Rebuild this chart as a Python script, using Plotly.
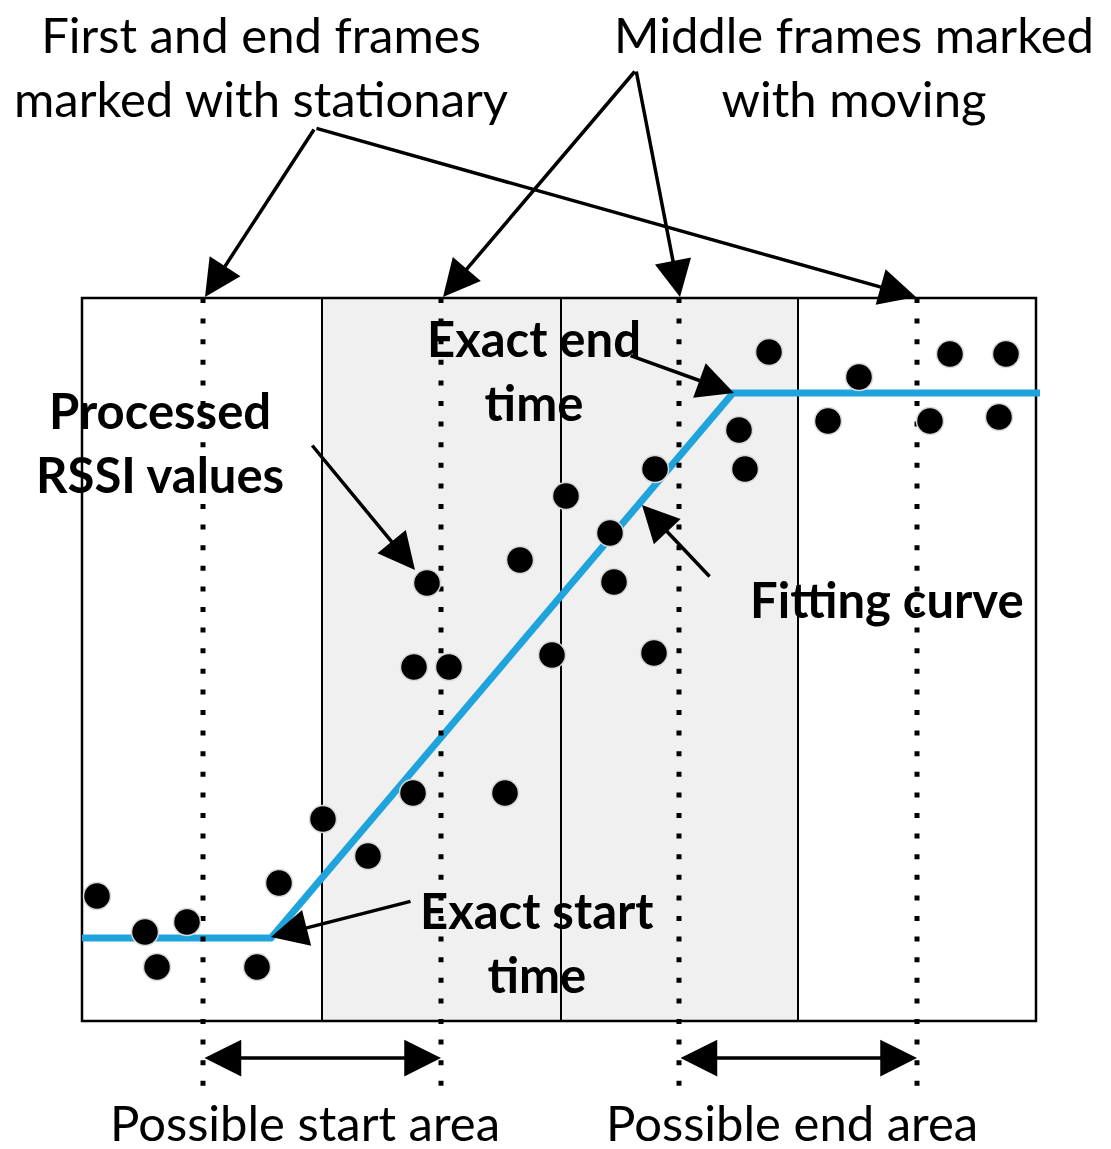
import plotly.graph_objects as go

# diagram units: x = time axis, y = RSSI axis drawn top-down (page pixels)
frame_edges = [82, 322, 561, 798, 1036]
frame_top, frame_bottom = 298, 1021
shaded = [(322, 798)]
marker_lines = [203, 441, 679, 917]
marker_top, marker_bottom = 298, 1088

rssi_x = [97, 145, 187, 157, 257, 279, 323, 368, 413, 505, 414, 449, 427, 520, 552,
          566, 610, 614, 655, 654, 739, 745, 769, 828, 859, 930, 950, 999, 1006]
rssi_y = [896, 932, 922, 967, 967, 883, 819, 856, 793, 793, 667, 667, 583, 560, 655,
          496, 533, 582, 469, 653, 430, 469, 352, 421, 377, 421, 354, 417, 354]

fit_x = [82, 271, 733, 1040]
fit_y = [938, 938, 393, 393]

# (tail_x, tail_y, head_x, head_y)
arrows = [(315, 128, 205, 297), (315, 128, 916, 297),
          (636, 70, 443, 297), (636, 70, 680, 297),
          (311, 444, 415, 570), (629, 355, 734, 393),
          (711, 578, 642, 505), (412, 901, 271, 937)]
spans = [(203, 441), (679, 917)]
span_y = 1058

labels_top = [("First and end frames<br>marked with stationary", 261, 66),
              ("Middle frames marked<br>with moving", 854, 66)]
labels_bottom = [("Possible start area", 305, 1122), ("Possible end area", 792, 1122)]
labels_bold = [("Exact end<br>time", 534, 370), ("Processed<br>RSSI values", 160, 442),
               ("Fitting curve", 887, 599), ("Exact start<br>time", 537, 942)]

# the page body adds an 8px offset, so the view starts at 8
page_off = 8

fig = go.Figure()

shapes = []
for x0, x1 in shaded:
    shapes.append(dict(type="rect", x0=x0, x1=x1, y0=frame_top, y1=frame_bottom,
                       fillcolor="#f0f0f0", line_width=0, layer="below"))
for x in frame_edges[1:-1]:
    shapes.append(dict(type="line", x0=x, x1=x, y0=frame_top, y1=frame_bottom,
                       line=dict(color="black", width=2), layer="below"))
shapes.append(dict(type="rect", x0=frame_edges[0], x1=frame_edges[-1], y0=frame_top,
                   y1=frame_bottom, line=dict(color="black", width=2.5), layer="below"))

fig.add_trace(go.Scatter(x=fit_x, y=fit_y, mode="lines", line=dict(color="#1fa3dc", width=7),
                         hoverinfo="skip"))
for x in marker_lines:
    fig.add_trace(go.Scatter(x=[x, x], y=[marker_top, marker_bottom], mode="lines",
                             line=dict(color="black", width=5, dash="5px,15.6px"), hoverinfo="skip"))
fig.add_trace(go.Scatter(x=rssi_x, y=rssi_y, mode="markers",
                         marker=dict(color="black", size=27, line=dict(color="#d8d8d8", width=1.5)),
                         hovertemplate="%{x}, %{y}<extra></extra>"))

ann = []
for tx, ty, hx, hy in arrows:
    ann.append(dict(x=hx, y=hy, ax=tx, ay=ty, xref="x", yref="y", axref="x", ayref="y",
                    text="", showarrow=True, arrowhead=2, arrowsize=2.1, arrowwidth=3.5,
                    arrowcolor="black"))
for x0, x1 in spans:
    ann.append(dict(x=x1, y=span_y, ax=x0, ay=span_y, xref="x", yref="y", axref="x", ayref="y",
                    text="", showarrow=True, arrowhead=2, startarrowhead=2, arrowside="end+start",
                    arrowsize=2.1, startarrowsize=2.1, arrowwidth=3.5, arrowcolor="black"))
for t, x, y in labels_top + labels_bottom:
    ann.append(dict(x=x, y=y, xref="x", yref="y", text=t, showarrow=False,
                    font=dict(family="Lato", size=49, color="black"), align="center"))
for t, x, y in labels_bold:
    ann.append(dict(x=x, y=y, xref="x", yref="y", text="<b>" + t + "</b>", showarrow=False,
                    font=dict(family="Lato", size=49, color="black"), align="center"))

fig.update_xaxes(range=[page_off, 1111], visible=False, fixedrange=True)
fig.update_yaxes(range=[1149, page_off], visible=False, fixedrange=True)
fig.update_layout(width=1111 - page_off, height=1149 - page_off, margin=dict(l=0, r=0, t=0, b=0),
                  plot_bgcolor="white", paper_bgcolor="white", showlegend=False,
                  shapes=shapes, annotations=ann)

fig.write_html("out.html")
